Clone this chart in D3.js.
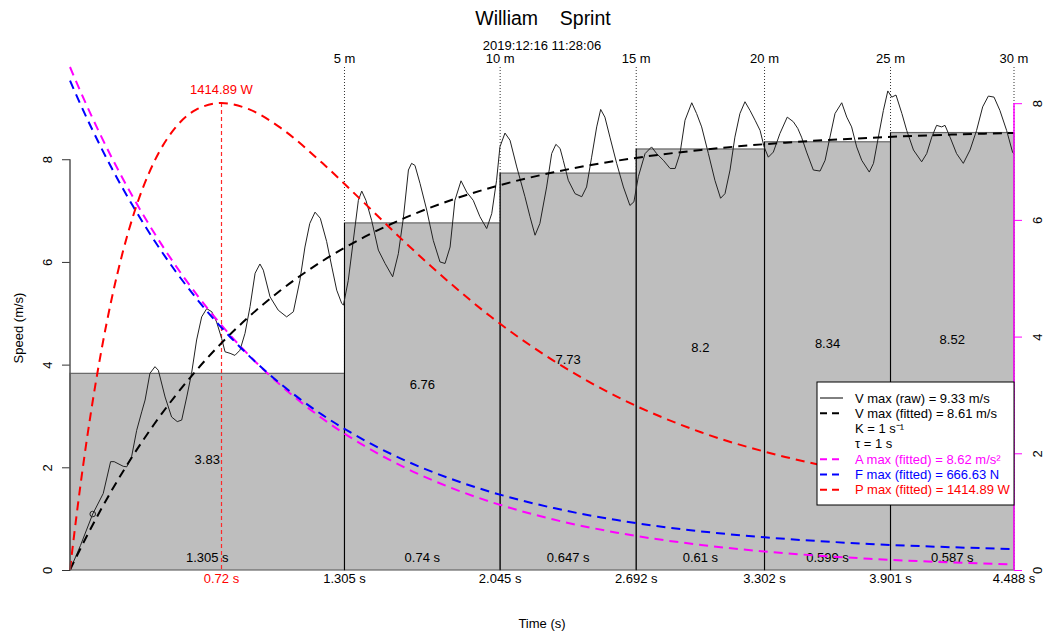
<!DOCTYPE html>
<html><head><meta charset="utf-8">
<script src="https://cdn.jsdelivr.net/npm/d3@7"></script>
<style>
body{margin:0;background:#fff}
text{font-family:"Liberation Sans",Arial,Helvetica,sans-serif;}
</style>
</head><body>
<svg id="chart" width="1043" height="633"></svg>
<script>
// ---------- data ----------
const titleText = "William    Sprint";
const subtitleText = "2019:12:16 11:28:06";
const splitTimes = [0, 1.305, 2.045, 2.692, 3.302, 3.901, 4.488];
const splitDistances = ["5 m", "10 m", "15 m", "20 m", "25 m", "30 m"];
const splitSpeeds = [3.83, 6.76, 7.73, 8.2, 8.34, 8.52];
const splitDurations = ["1.305 s", "0.74 s", "0.647 s", "0.61 s", "0.599 s", "0.587 s"];
const timeTickLabels = ["1.305 s", "2.045 s", "2.692 s", "3.302 s", "3.901 s", "4.488 s"];
const speedTicks = [0, 2, 4, 6, 8];
const rightTicks = [0, 2, 4, 6, 8];

const rawTime = [0,0.05,0.108,0.158,0.193,0.21,0.253,0.27,0.293,0.317,0.341,0.357,0.38,0.404,0.42,0.452,0.483,0.51,0.531,0.555,0.578,0.602,0.626,0.65,0.674,0.697,0.721,0.737,0.761,0.784,0.808,0.832,0.856,0.88,0.903,0.919,0.951,0.99,1.03,1.062,1.093,1.117,1.14,1.165,1.19,1.22,1.245,1.268,1.292,1.30,1.323,1.347,1.371,1.387,1.407,1.434,1.466,1.498,1.534,1.561,1.585,1.609,1.624,1.64,1.664,1.696,1.727,1.759,1.783,1.807,1.83,1.859,1.886,1.917,1.949,1.981,2.005,2.028,2.044,2.068,2.092,2.124,2.163,2.187,2.211,2.234,2.266,2.29,2.31,2.33,2.345,2.369,2.401,2.433,2.456,2.48,2.504,2.523,2.543,2.567,2.599,2.631,2.662,2.681,2.702,2.734,2.765,2.789,2.821,2.853,2.877,2.9,2.924,2.956,2.979,3.003,3.035,3.066,3.093,3.114,3.138,3.161,3.185,3.209,3.233,3.257,3.281,3.30,3.32,3.344,3.375,3.41,3.439,3.46,3.478,3.502,3.534,3.566,3.59,3.613,3.637,3.669,3.693,3.716,3.74,3.764,3.80,3.82,3.843,3.867,3.888,3.907,3.927,3.955,3.978,4.01,4.049,4.073,4.097,4.12,4.144,4.16,4.184,4.215,4.247,4.279,4.31,4.339,4.366,4.393,4.421,4.453,4.481,4.488];
const rawSpeed = [0,0.48,1.09,1.49,2.11,2.11,2.02,2.01,2.21,2.72,3.08,3.31,3.83,3.96,3.89,3.37,2.98,2.89,2.92,3.37,3.83,4.48,4.93,5.09,5.03,4.83,4.51,4.25,4.22,4.18,4.28,4.61,5.13,5.78,5.96,5.84,5.32,5.06,4.93,5.03,5.64,6.29,6.75,6.97,6.85,6.40,5.90,5.45,5.19,5.16,5.64,6.42,7.20,7.38,7.20,6.81,6.23,5.97,5.71,6.16,6.86,7.79,7.92,7.88,7.53,7.01,6.42,6.00,5.97,6.29,7.20,7.58,7.36,7.20,6.88,6.65,6.94,7.59,8.24,8.51,8.37,7.85,7.27,6.88,6.52,6.75,7.46,8.11,8.29,8.21,7.98,7.59,7.33,7.27,7.46,8.04,8.63,8.97,8.82,8.43,7.92,7.46,7.10,7.17,7.66,8.11,8.24,8.11,7.98,7.82,7.82,8.11,8.76,9.10,8.89,8.63,8.11,7.59,7.24,7.33,7.79,8.43,8.89,9.12,8.95,8.76,8.56,8.24,8.04,8.14,8.50,8.82,8.73,8.60,8.43,8.14,7.79,7.77,7.98,8.43,8.89,9.10,8.82,8.63,8.24,7.98,7.75,7.92,8.43,8.95,9.33,9.21,9.25,8.89,8.56,8.18,7.95,8.11,8.43,8.66,8.63,8.66,8.43,8.11,7.92,8.18,8.56,9.02,9.23,9.21,8.95,8.56,8.14,8.10];
const markerTime = [0.108];
const markerSpeed = [1.09];

const fitTime  = [0,0.02,0.05,0.1,0.15,0.2,0.25,0.3,0.4,0.5,0.6,0.72,0.85,1.0,1.2,1.4,1.6,1.8,2.0,2.3,2.6,3.0,3.4,3.8,4.2,4.488];
const fitSpeed = [0,0.171,0.420,0.819,1.199,1.561,1.905,2.232,2.839,3.388,3.885,4.419,4.930,5.443,6.017,6.487,6.872,7.187,7.445,7.747,7.971,8.181,8.323,8.417,8.481,8.513];
const fitAccel = [8.62,8.449,8.200,7.800,7.419,7.057,6.713,6.386,5.778,5.228,4.731,4.196,3.684,3.171,2.596,2.126,1.740,1.425,1.167,0.864,0.640,0.429,0.288,0.193,0.129,0.097];
const fitForce = [8.387,8.221,7.979,7.592,7.224,6.875,6.545,6.232,5.651,5.129,4.658,4.154,3.674,3.194,2.658,2.223,1.866,1.576,1.338,1.061,0.855,0.662,0.534,0.447,0.389,0.359];
const fitPower = [0,0.611,1.461,2.711,3.777,4.679,5.435,6.065,6.995,7.576,7.890,8.003,7.897,7.580,6.973,6.287,5.591,4.939,4.343,3.584,2.971,2.361,1.938,1.640,1.438,1.332];
const peakPowerTime = 0.72;
const peakPowerValue = 8.003;
const peakPowerLabel = "1414.89 W";
const peakTimeLabel = "0.72 s";

const legendLabels = ["V max (raw) = 9.33 m/s","V max (fitted) = 8.61 m/s","K = 1 s\u207B\u00B9","\u03C4 = 1 s","A max (fitted) = 8.62 m/s\u00B2","F max (fitted) = 666.63 N","P max (fitted) = 1414.89 W"];
const legendColors = ["#000","#000","#000","#000","#ff00ff","#0000ff","#ff0000"];
const legendLineTypes = ["solid","dashed","none","none","dashed","dashed","dashed"];

// ---------- layout ----------
const svg = d3.select("#chart");
const L = 70, R = 1014, B = 570, T = 67;
const x = d3.scaleLinear().domain([0, 4.488]).range([L, R]);
const ySpeed = d3.scaleLinear().domain([0, 9.33 * 1.05]).range([B, T]);
const yRight = d3.scaleLinear().domain([0, 8.62]).range([B, T]);
const FONT = 13;
const DASH = "9,6";

// dotted split lines
svg.append("g").selectAll("line").data(splitTimes.slice(1)).join("line")
  .attr("x1", d => x(d)).attr("x2", d => x(d))
  .attr("y1", T).attr("y2", B)
  .attr("stroke", "#333").attr("stroke-width", 1).attr("stroke-dasharray", "1,2");

// bars
const bars = splitSpeeds.map((v, i) => ({t0: splitTimes[i], t1: splitTimes[i + 1], v, dur: splitDurations[i]}));
svg.append("g").selectAll("rect").data(bars).join("rect")
  .attr("x", d => x(d.t0)).attr("width", d => x(d.t1) - x(d.t0))
  .attr("y", d => ySpeed(d.v)).attr("height", d => B - ySpeed(d.v))
  .attr("fill", "#bebebe").attr("stroke", "#666").attr("stroke-width", 1.2);

// black split boundaries
svg.append("g").selectAll("line").data(bars.slice(1)).join("line")
  .attr("x1", d => x(d.t0)).attr("x2", d => x(d.t0))
  .attr("y1", B).attr("y2", d => ySpeed(d.v))
  .attr("stroke", "#000").attr("stroke-width", 1);

// bar speed labels
svg.append("g").selectAll("text").data(bars).join("text")
  .attr("x", d => (x(d.t0) + x(d.t1)) / 2).attr("y", d => ySpeed(d.v / 2) - 12)
  .attr("text-anchor", "middle").attr("dominant-baseline", "central")
  .attr("font-size", FONT).attr("fill", "#000").text(d => d.v);
// durations
svg.append("g").selectAll("text").data(bars).join("text")
  .attr("x", d => (x(d.t0) + x(d.t1)) / 2).attr("y", 557)
  .attr("text-anchor", "middle").attr("dominant-baseline", "central")
  .attr("font-size", FONT).attr("fill", "#000").text(d => d.dur);

// peak power vertical marker (drawn before curves)
const px = Math.round(x(peakPowerTime)) + 0.5;
svg.append("line")
  .attr("x1", px).attr("x2", px)
  .attr("y1", yRight(peakPowerValue)).attr("y2", B)
  .style("stroke", "rgb(255,40,40)").style("stroke-width", "1.2px").style("stroke-dasharray", "4 3");

// raw speed line
const rawPts = rawTime.map((t, i) => [t, rawSpeed[i]]);
svg.append("path").datum(rawPts)
  .attr("d", d3.line().x(d => x(d[0])).y(d => ySpeed(d[1])))
  .attr("fill", "none").attr("stroke", "#222").attr("stroke-width", 1);
svg.append("g").selectAll("circle").data(markerTime).join("circle")
  .attr("cx", d => x(d)).attr("cy", (d, i) => ySpeed(markerSpeed[i])).attr("r", 2.8)
  .attr("fill", "none").attr("stroke", "#222").attr("stroke-width", 1);

// fitted curves
const curve = d3.curveMonotoneX;
function fitted(vals, yScale, color) {
  svg.append("path").datum(fitTime.map((t, i) => [t, vals[i]]))
    .attr("d", d3.line().curve(curve).x(d => x(d[0])).y(d => yScale(d[1])))
    .attr("fill", "none").attr("stroke", color).attr("stroke-width", 2)
    .attr("stroke-dasharray", DASH);
}
fitted(fitSpeed, ySpeed, "#000");
fitted(fitAccel, yRight, "#ff00ff");
fitted(fitForce, yRight, "#0000ff");
fitted(fitPower, yRight, "#ff0000");

svg.append("text").attr("x", x(peakPowerTime)).attr("y", 89)
  .attr("text-anchor", "middle").attr("dominant-baseline", "central")
  .attr("font-size", FONT).attr("fill", "#ff0000").text(peakPowerLabel);
svg.append("text").attr("x", x(peakPowerTime)).attr("y", 578)
  .attr("text-anchor", "middle").attr("dominant-baseline", "central")
  .attr("font-size", FONT).attr("fill", "#ff0000").text(peakTimeLabel);

// bottom time labels
svg.append("g").selectAll("text").data(splitTimes.slice(1)).join("text")
  .attr("x", d => x(d)).attr("y", 578)
  .attr("text-anchor", "middle").attr("dominant-baseline", "central")
  .attr("font-size", FONT).attr("fill", "#000").text((d, i) => timeTickLabels[i]);

// top distance labels
svg.append("g").selectAll("text").data(splitTimes.slice(1)).join("text")
  .attr("x", d => x(d)).attr("y", 58)
  .attr("text-anchor", "middle").attr("dominant-baseline", "central")
  .attr("font-size", FONT).attr("fill", "#000").text((d, i) => splitDistances[i]);

// left axis
const gl = svg.append("g").attr("transform", `translate(${L},0)`)
  .call(d3.axisLeft(ySpeed).tickValues(speedTicks).tickSize(8).tickSizeOuter(0));
gl.select(".domain").remove();
gl.selectAll(".tick line").attr("stroke", "#333");
gl.append("line").attr("x1", 0).attr("x2", 0).attr("y1", ySpeed(0)).attr("y2", ySpeed(8))
  .attr("stroke", "#555").attr("stroke-width", 1.5);
gl.selectAll(".tick text").attr("x", null).attr("dy", null)
  .attr("transform", "translate(-23,0) rotate(-90)")
  .attr("text-anchor", "middle").attr("dominant-baseline", "central")
  .attr("font-size", FONT).attr("font-family", null).attr("fill", "#000");

// right axis
const gr = svg.append("g").attr("transform", `translate(${R},0)`)
  .call(d3.axisRight(yRight).tickValues(rightTicks).tickSize(8).tickSizeOuter(0));
gr.select(".domain").remove();
gr.selectAll(".tick line").attr("stroke", "#ff00ff");
gr.append("line").attr("x1", 0).attr("x2", 0).attr("y1", yRight(0)).attr("y2", yRight(8))
  .attr("stroke", "#ff00ff").attr("stroke-width", 1.5);
gr.selectAll(".tick text").attr("x", null).attr("dy", null)
  .attr("transform", "translate(23,0) rotate(-90)")
  .attr("text-anchor", "middle").attr("dominant-baseline", "central")
  .attr("font-size", FONT).attr("font-family", null).attr("fill", "#000");

// axis titles
svg.append("text").attr("transform", "translate(18,328) rotate(-90)")
  .attr("text-anchor", "middle").attr("dominant-baseline", "central")
  .attr("font-size", FONT).text("Speed (m/s)");
svg.append("text").attr("x", (L + R) / 2).attr("y", 623)
  .attr("text-anchor", "middle").attr("dominant-baseline", "central")
  .attr("font-size", FONT).text("Time (s)");

// titles
svg.append("text").attr("x", (L + R) / 2 + 1).attr("y", 18)
  .attr("text-anchor", "middle").attr("dominant-baseline", "central")
  .attr("font-size", 19.5).style("white-space", "pre").text(titleText);
svg.append("text").attr("x", (L + R) / 2).attr("y", 45)
  .attr("text-anchor", "middle").attr("dominant-baseline", "central")
  .attr("font-size", FONT).text(subtitleText);

// legend
const lg = svg.append("g");
lg.append("rect").attr("x", 817).attr("y", 382).attr("width", 197).attr("height", 123)
  .attr("fill", "#fff").attr("stroke", "#000").attr("stroke-width", 1);
const rows = lg.selectAll("g.row").data(legendLabels).join("g").attr("class", "row")
  .attr("transform", (d, i) => `translate(0,${398 + i * 15.3})`);
rows.filter((d, i) => legendLineTypes[i] !== "none").append("line")
  .attr("x1", 820).attr("x2", 843).attr("y1", 0).attr("y2", 0)
  .attr("stroke", d => legendColors[legendLabels.indexOf(d)])
  .attr("stroke-width", d => legendLineTypes[legendLabels.indexOf(d)] === "solid" ? 1 : 2)
  .attr("stroke-dasharray", d => legendLineTypes[legendLabels.indexOf(d)] === "dashed" ? "7,5" : null);
rows.append("text").attr("x", 855).attr("y", 0).attr("dominant-baseline", "central")
  .attr("font-size", FONT).attr("fill", (d, i) => legendColors[i]).text(d => d);
</script>
</body></html>
